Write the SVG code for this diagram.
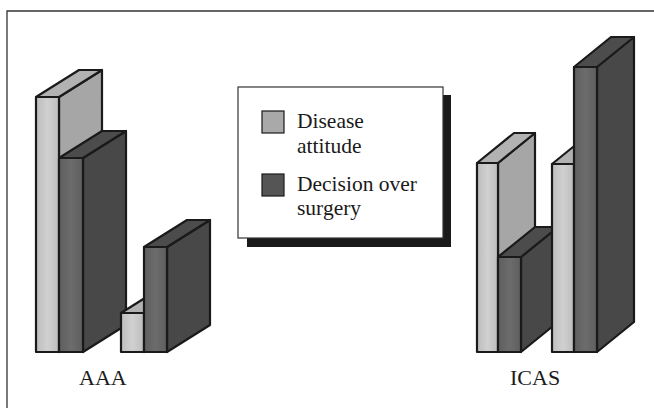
<svg xmlns="http://www.w3.org/2000/svg" width="654" height="408" viewBox="0 0 654 408">
  <defs>
    <linearGradient id="gl" x1="0" y1="0" x2="1" y2="0">
      <stop offset="0" stop-color="#bdbdbd"/>
      <stop offset="0.5" stop-color="#d0d0d0"/>
      <stop offset="1" stop-color="#bdbdbd"/>
    </linearGradient>
    <linearGradient id="gd" x1="0" y1="0" x2="1" y2="0">
      <stop offset="0" stop-color="#5e5e5e"/>
      <stop offset="0.5" stop-color="#6c6c6c"/>
      <stop offset="1" stop-color="#5e5e5e"/>
    </linearGradient>
  </defs>
  <style>
    .lf { fill: url(#gl); }
    .ls { fill: #a6a6a6; }
    .lt { fill: #b2b2b2; }
    .df { fill: url(#gd); }
    .ds { fill: #484848; }
    .dt { fill: #4c4c4c; }
    .bar * { stroke: #1a1a1a; stroke-width: 2.2; stroke-linejoin: round; }
    .txt { font-family: "Liberation Serif", "Times New Roman", serif; font-size: 22px; fill: #1a1a1a; }
    .lg { font-size: 21.5px; }
  </style>
  <rect width="654" height="408" fill="#ffffff"/>
  <g id="frame" fill="none" stroke="#333" stroke-width="1.3">
    <path d="M7,408 V11 H654"/>
  </g>

  <!-- AAA group -->
  <g id="aaa-disease" class="bar">
    <polygon class="ls" points="59,97 102,70 102,325 59,352"/>
    <polygon class="lt" points="36,97 79,70 102,70 59,97"/>
    <rect class="lf" x="36" y="97" width="23" height="255"/>
  </g>
  <g id="aaa-decision" class="bar">
    <polygon class="ds" points="83,158 126,131 126,325 83,352"/>
    <polygon class="dt" points="59,158 102,131 126,131 83,158"/>
    <rect class="df" x="59" y="158" width="24" height="194"/>
  </g>
  <g id="aaa-disease-2" class="bar">
    <polygon class="ls" points="144,313 187,286 187,325 144,352"/>
    <polygon class="lt" points="121,313 164,286 187,286 144,313"/>
    <rect class="lf" x="121" y="313" width="23" height="39"/>
  </g>
  <g id="aaa-decision-2" class="bar">
    <polygon class="ds" points="167,247 210,220 210,325 167,352"/>
    <polygon class="dt" points="144,247 187,220 210,220 167,247"/>
    <rect class="df" x="144" y="247" width="23" height="105"/>
  </g>

  <!-- ICAS group -->
  <g id="icas-disease" class="bar">
    <polygon class="ls" points="498,163 535,133 535,322 498,352"/>
    <polygon class="lt" points="477,163 514,133 535,133 498,163"/>
    <rect class="lf" x="477" y="163" width="21" height="189"/>
  </g>
  <g id="icas-decision" class="bar">
    <polygon class="ds" points="521,257 558,227 558,322 521,352"/>
    <polygon class="dt" points="498,257 535,227 558,227 521,257"/>
    <rect class="df" x="498" y="257" width="23" height="95"/>
  </g>
  <g id="icas-disease-2" class="bar">
    <polygon class="ls" points="574,164 611,134 611,322 574,352"/>
    <polygon class="lt" points="552,164 589,134 611,134 574,164"/>
    <rect class="lf" x="552" y="164" width="22" height="188"/>
  </g>
  <g id="icas-decision-2" class="bar">
    <polygon class="ds" points="597,67 634,37 634,322 597,352"/>
    <polygon class="dt" points="574,67 611,37 634,37 597,67"/>
    <rect class="df" x="574" y="67" width="23" height="285"/>
  </g>

  <g id="legend">
    <rect x="247" y="95" width="204" height="152" fill="#1a1a1a"/>
    <rect x="238" y="87" width="205" height="151" fill="#ffffff" stroke="#333" stroke-width="1.2"/>
    <rect x="262" y="111" width="22" height="22" fill="#a9a9a9" stroke="#1a1a1a" stroke-width="1.2"/>
    <rect x="262" y="174" width="22" height="22" fill="#555555" stroke="#1a1a1a" stroke-width="1.2"/>
    <text class="txt lg" x="297" y="128">Disease</text>
    <text class="txt lg" x="297" y="153">attitude</text>
    <text class="txt lg" x="297" y="191">Decision over</text>
    <text class="txt lg" x="297" y="215">surgery</text>
  </g>

  <g id="labels">
    <text class="txt" x="79" y="385">AAA</text>
    <text class="txt" x="510" y="385">ICAS</text>
  </g>
</svg>
